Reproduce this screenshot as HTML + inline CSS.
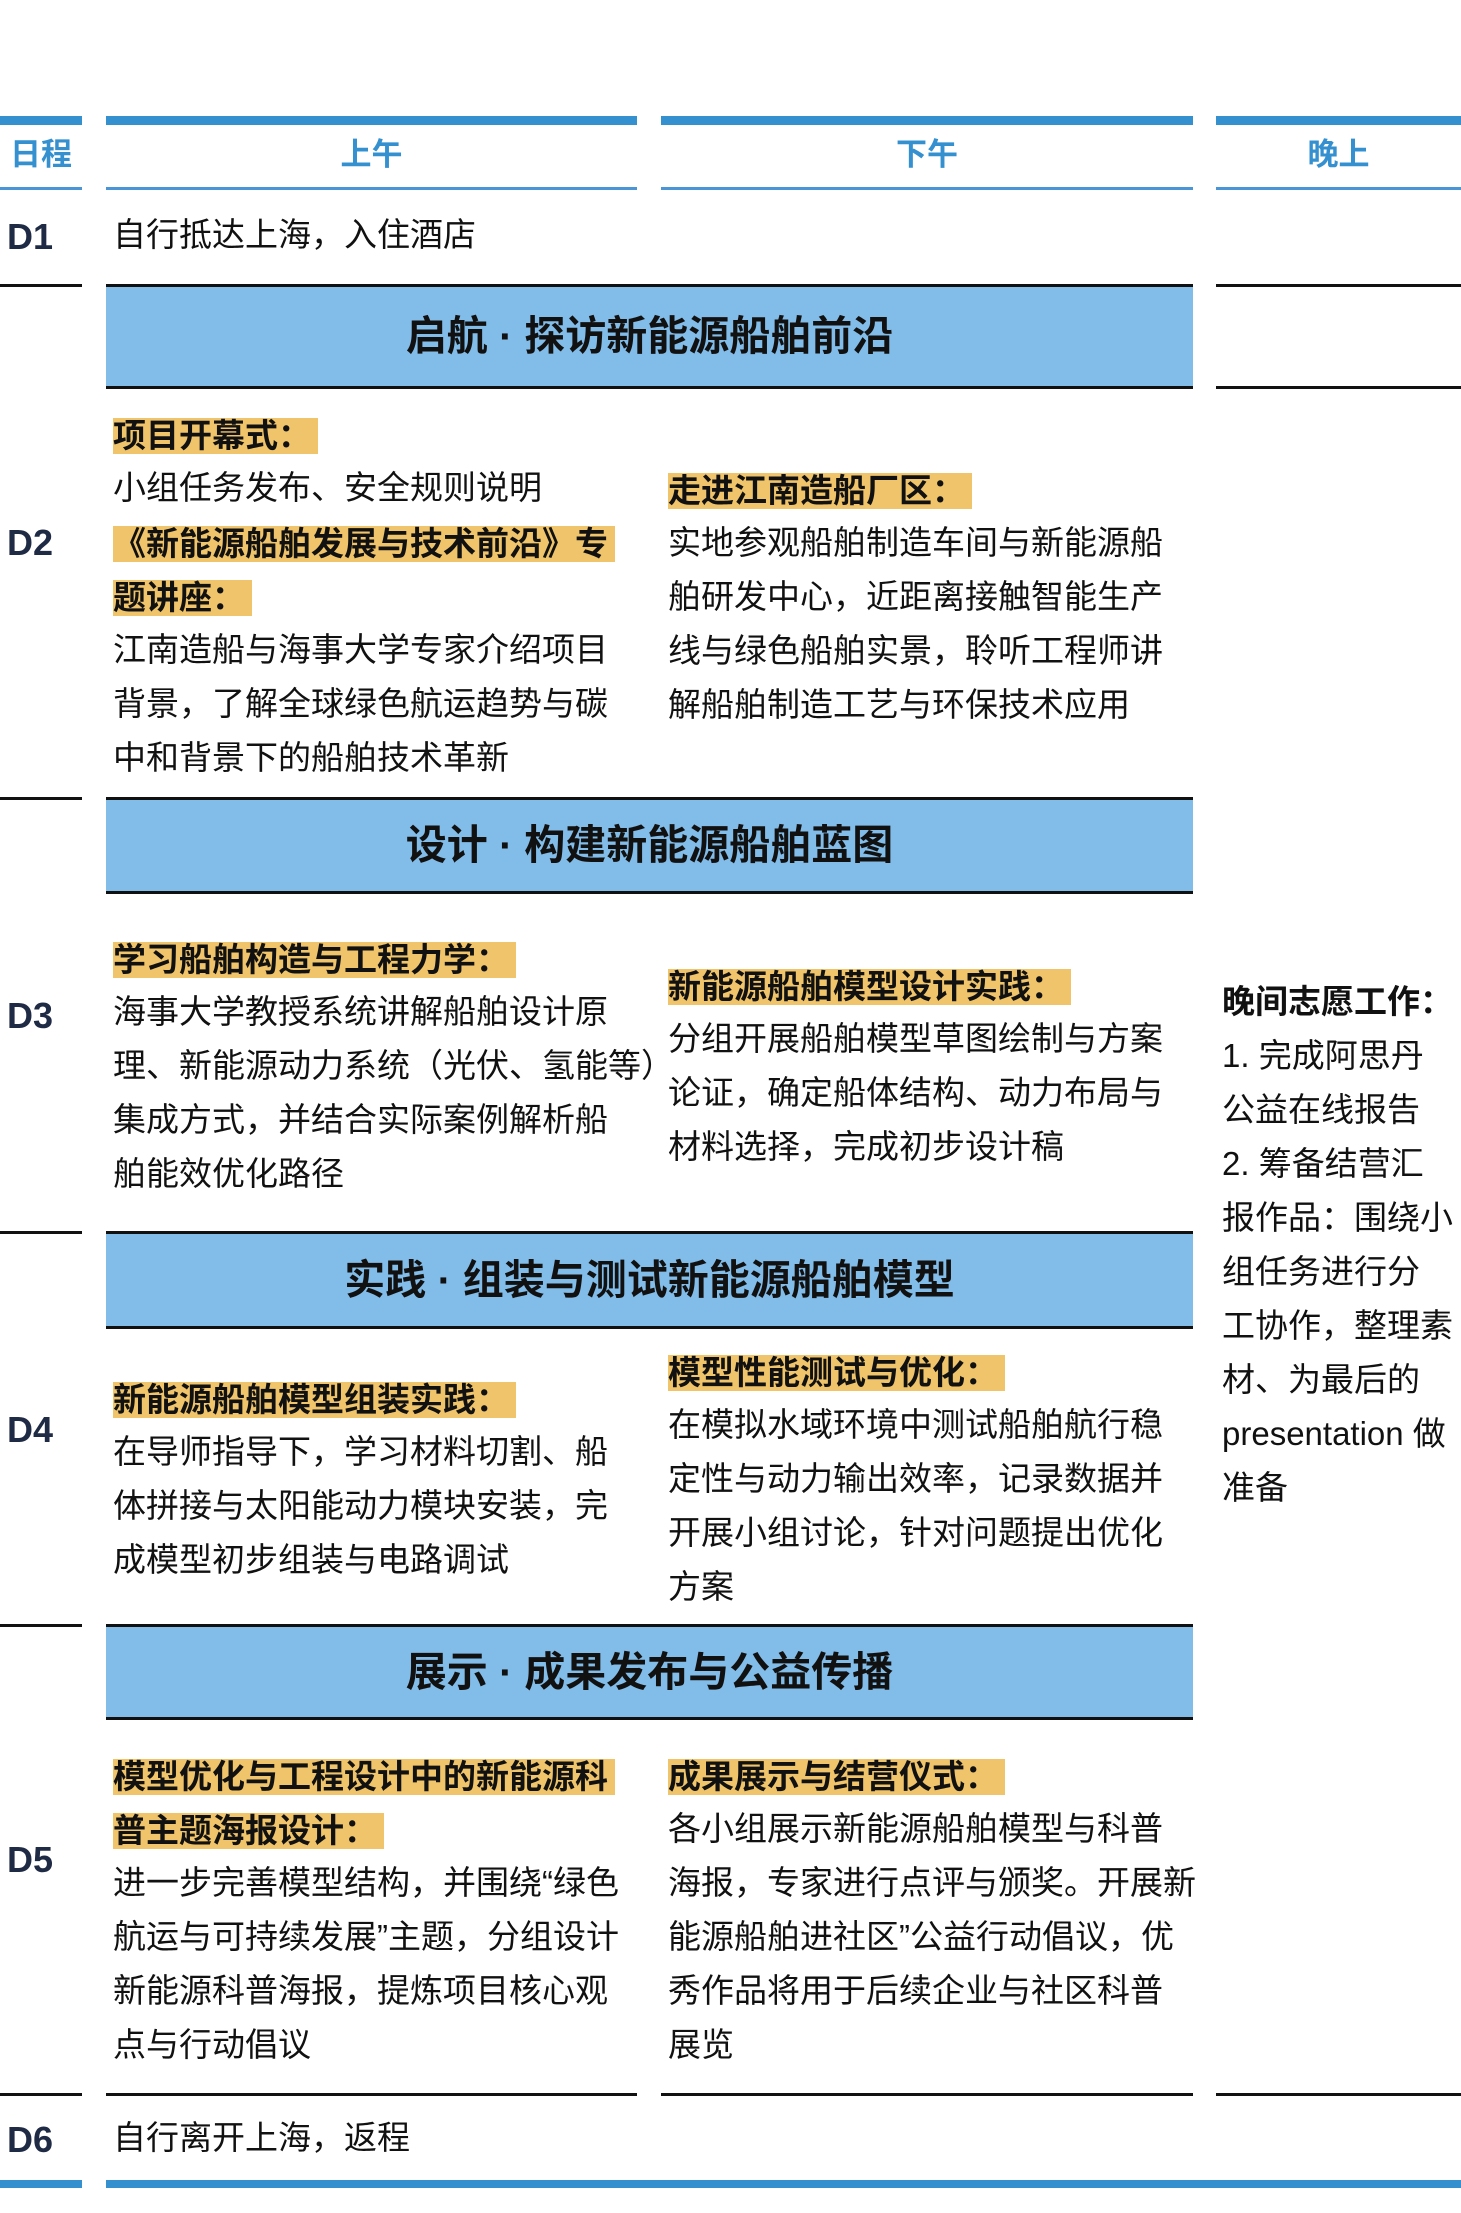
<!DOCTYPE html>
<html><head><meta charset="utf-8"><style>
body{margin:0;width:1461px;height:2213px;background:#fff;position:relative;overflow:hidden;font-family:"Liberation Sans","Noto Sans CJK SC",sans-serif;color:#111}
.bar{position:absolute;background:#3590D0}
.ln{position:absolute;height:3px;background:#111}
.hl{position:absolute;height:3px;background:#4a95d6}
.hd{position:absolute;top:134px;height:42px;line-height:42px;text-align:center;color:#3590D0;font-weight:bold;font-size:31px}
.day{position:absolute;left:7px;font-weight:bold;font-size:36px;color:#1f2a44;height:54px;line-height:54px}
.blk{position:absolute;font-size:33px}
.blk div{height:54px;line-height:54px;white-space:nowrap}
.h{display:inline-block;line-height:36px;height:36px;background:#EFC46A;font-weight:bold;padding-right:7px;vertical-align:middle}
.ban{position:absolute;left:106px;width:1087px;background:#82BCE8;border-top:3px solid #111;border-bottom:3px solid #111;box-sizing:border-box;text-align:center;font-weight:bold;font-size:41px;color:#111}
</style></head><body>
<div class="bar" style="left:0;top:116px;width:82px;height:9px"></div>
<div class="bar" style="left:106px;top:116px;width:531px;height:9px"></div>
<div class="bar" style="left:661px;top:116px;width:532px;height:9px"></div>
<div class="bar" style="left:1216px;top:116px;width:245px;height:9px"></div>
<div class="hl" style="left:0;top:187px;width:82px"></div>
<div class="hl" style="left:106px;top:187px;width:531px"></div>
<div class="hl" style="left:661px;top:187px;width:532px"></div>
<div class="hl" style="left:1216px;top:187px;width:245px"></div>
<div class="hd" style="left:0;width:82px">日程</div>
<div class="hd" style="left:106px;width:531px">上午</div>
<div class="hd" style="left:661px;width:532px">下午</div>
<div class="hd" style="left:1216px;width:245px">晚上</div>

<div class="ln" style="left:0;top:284px;width:82px"></div>
<div class="ln" style="left:1216px;top:284px;width:245px"></div>
<div class="ln" style="left:1216px;top:386px;width:245px"></div>
<div class="ln" style="left:0;top:797px;width:82px"></div>
<div class="ln" style="left:0;top:1231px;width:82px"></div>
<div class="ln" style="left:0;top:1624px;width:82px"></div>
<div class="ln" style="left:0;top:2093px;width:82px"></div>
<div class="ln" style="left:106px;top:2093px;width:531px"></div>
<div class="ln" style="left:661px;top:2093px;width:532px"></div>
<div class="ln" style="left:1216px;top:2093px;width:245px"></div>
<div class="bar" style="left:0;top:2180px;width:82px;height:8px"></div>
<div class="bar" style="left:106px;top:2180px;width:1355px;height:8px"></div>

<div class="ban" style="top:284px;height:105px;line-height:99px">启航 · 探访新能源船舶前沿</div>
<div class="ban" style="top:797px;height:97px;line-height:91px">设计 · 构建新能源船舶蓝图</div>
<div class="ban" style="top:1231px;height:98px;line-height:92px">实践 · 组装与测试新能源船舶模型</div>
<div class="ban" style="top:1624px;height:96px;line-height:90px">展示 · 成果发布与公益传播</div>

<div class="day" style="top:210px">D1</div>
<div class="day" style="top:516px">D2</div>
<div class="day" style="top:989px">D3</div>
<div class="day" style="top:1403px">D4</div>
<div class="day" style="top:1833px">D5</div>
<div class="day" style="top:2113px">D6</div>

<div class="blk" style="left:113px;top:208px"><div>自行抵达上海，入住酒店</div></div>
<div class="blk" style="left:113px;top:2111px"><div>自行离开上海，返程</div></div>

<div class="blk" style="left:113px;top:407px">
<div><span class="h">项目开幕式：</span></div>
<div>小组任务发布、安全规则说明</div>
<div><span class="h">《新能源船舶发展与技术前沿》专</span></div>
<div><span class="h">题讲座：</span></div>
<div>江南造船与海事大学专家介绍项目</div>
<div>背景，了解全球绿色航运趋势与碳</div>
<div>中和背景下的船舶技术革新</div>
</div>
<div class="blk" style="left:668px;top:462px">
<div><span class="h">走进江南造船厂区：</span></div>
<div>实地参观船舶制造车间与新能源船</div>
<div>舶研发中心，近距离接触智能生产</div>
<div>线与绿色船舶实景，聆听工程师讲</div>
<div>解船舶制造工艺与环保技术应用</div>
</div>

<div class="blk" style="left:113px;top:931px">
<div><span class="h">学习船舶构造与工程力学：</span></div>
<div>海事大学教授系统讲解船舶设计原</div>
<div>理、新能源动力系统（光伏、氢能等）</div>
<div>集成方式，并结合实际案例解析船</div>
<div>舶能效优化路径</div>
</div>
<div class="blk" style="left:668px;top:958px">
<div><span class="h">新能源船舶模型设计实践：</span></div>
<div>分组开展船舶模型草图绘制与方案</div>
<div>论证，确定船体结构、动力布局与</div>
<div>材料选择，完成初步设计稿</div>
</div>

<div class="blk" style="left:1222px;top:975px">
<div><b>晚间志愿工作：</b></div>
<div>1. 完成阿思丹</div>
<div>公益在线报告</div>
<div>2. 筹备结营汇</div>
<div>报作品：围绕小</div>
<div>组任务进行分</div>
<div>工协作，整理素</div>
<div>材、为最后的</div>
<div>presentation 做</div>
<div>准备</div>
</div>

<div class="blk" style="left:113px;top:1371px">
<div><span class="h">新能源船舶模型组装实践：</span></div>
<div>在导师指导下，学习材料切割、船</div>
<div>体拼接与太阳能动力模块安装，完</div>
<div>成模型初步组装与电路调试</div>
</div>
<div class="blk" style="left:668px;top:1344px">
<div><span class="h">模型性能测试与优化：</span></div>
<div>在模拟水域环境中测试船舶航行稳</div>
<div>定性与动力输出效率，记录数据并</div>
<div>开展小组讨论，针对问题提出优化</div>
<div>方案</div>
</div>

<div class="blk" style="left:113px;top:1748px">
<div><span class="h">模型优化与工程设计中的新能源科</span></div>
<div><span class="h">普主题海报设计：</span></div>
<div>进一步完善模型结构，并围绕“绿色</div>
<div>航运与可持续发展”主题，分组设计</div>
<div>新能源科普海报，提炼项目核心观</div>
<div>点与行动倡议</div>
</div>
<div class="blk" style="left:668px;top:1748px">
<div><span class="h">成果展示与结营仪式：</span></div>
<div>各小组展示新能源船舶模型与科普</div>
<div>海报，专家进行点评与颁奖。开展新</div>
<div>能源船舶进社区”公益行动倡议，优</div>
<div>秀作品将用于后续企业与社区科普</div>
<div>展览</div>
</div>
</body></html>
